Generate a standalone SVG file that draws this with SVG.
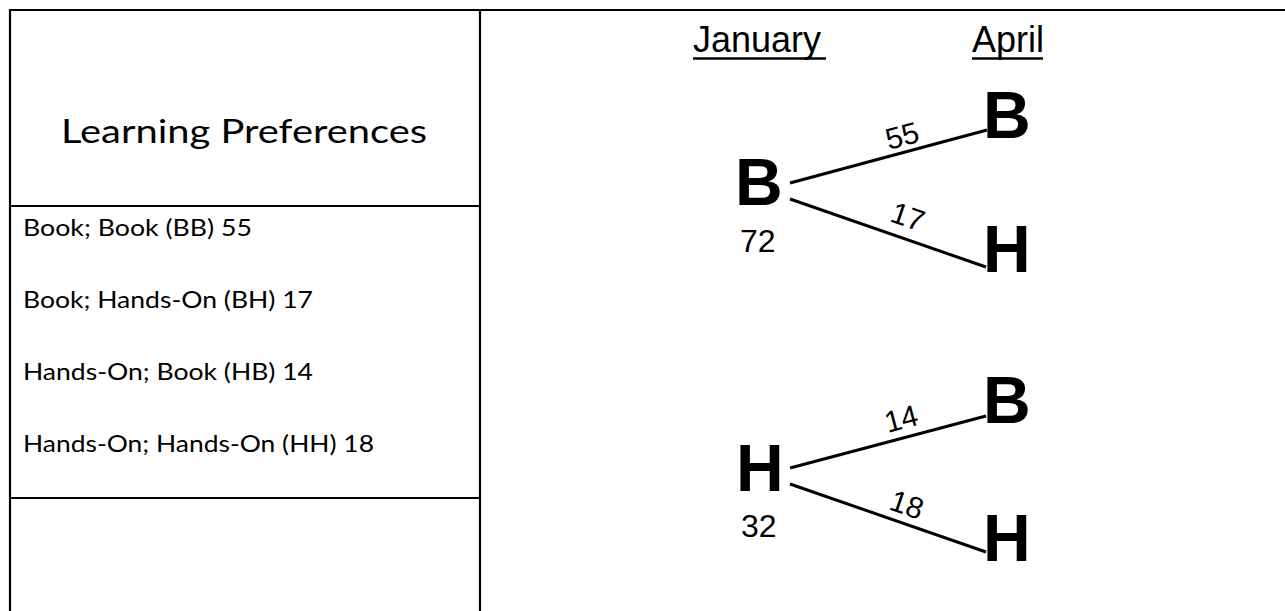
<svg xmlns="http://www.w3.org/2000/svg" width="1285" height="611" viewBox="0 0 1285 611">
<style>
.frame{stroke:#000;stroke-width:2.2;fill:none}
.cal{font-family:Lato,"Open Sans","Liberation Sans",sans-serif;fill:#000}
.arial{font-family:"Liberation Sans",Arial,sans-serif;fill:#000}
.big{font-family:"Liberation Sans",Arial,sans-serif;font-weight:bold;font-size:66px;fill:#000}
.num{font-family:"Liberation Sans",Arial,sans-serif;font-size:32px;fill:#000}
.lbl{font-family:"Liberation Sans",Arial,sans-serif;font-size:30px;fill:#000;text-anchor:middle}
.edge{stroke:#000;stroke-width:3;fill:none}
.ul{stroke:#000;stroke-width:2.4}
</style>
<rect width="1285" height="611" fill="#fff"/>
<g id="table">
<line class="frame" x1="9" y1="10" x2="1285" y2="10"/>
<line class="frame" x1="10" y1="9" x2="10" y2="611"/>
<line class="frame" x1="480" y1="9" x2="480" y2="611"/>
<line class="frame" x1="10" y1="206" x2="480" y2="206"/>
<line class="frame" x1="10" y1="498" x2="480" y2="498"/>
</g>
<g id="title">
<text class="cal" x="61" y="143" font-size="33.5" textLength="366" lengthAdjust="spacingAndGlyphs">Learning Preferences</text>
</g>
<g id="list">
<text class="cal" x="23" y="236" font-size="23" textLength="229" lengthAdjust="spacingAndGlyphs">Book; Book (BB) 55</text>
<text class="cal" x="23" y="308" font-size="23" textLength="290" lengthAdjust="spacingAndGlyphs">Book; Hands-On (BH) 17</text>
<text class="cal" x="23" y="380" font-size="23" textLength="290" lengthAdjust="spacingAndGlyphs">Hands-On; Book (HB) 14</text>
<text class="cal" x="23" y="452" font-size="23" textLength="351" lengthAdjust="spacingAndGlyphs">Hands-On; Hands-On (HH) 18</text>
</g>
<g id="headers">
<text class="arial" x="693" y="52" font-size="36">January</text>
<line class="ul" x1="693" y1="58.5" x2="826" y2="58.5"/>
<text class="arial" x="972" y="52" font-size="36">April</text>
<line class="ul" x1="972" y1="58.5" x2="1043" y2="58.5"/>
</g>
<g id="node-jan-B">
<text class="big" x="735" y="205">B</text>
<text class="num" x="740" y="252">72</text>
</g>
<g id="node-apr-BB">
<text class="big" x="983" y="138">B</text>
</g>
<g id="node-apr-BH">
<text class="big" x="983" y="272">H</text>
</g>
<g id="node-jan-H">
<text class="big" x="736" y="491">H</text>
<text class="num" x="741" y="537">32</text>
</g>
<g id="node-apr-HB">
<text class="big" x="983" y="423">B</text>
</g>
<g id="node-apr-HH">
<text class="big" x="983" y="561">H</text>
</g>
<g id="connectors">
<line class="edge" x1="790" y1="183" x2="987" y2="130"/>
<line class="edge" x1="790" y1="199" x2="986" y2="267"/>
<line class="edge" x1="790" y1="468" x2="986" y2="416"/>
<line class="edge" x1="790" y1="484" x2="986" y2="552"/>
<text class="lbl" x="902" y="146" transform="rotate(-15 902 135)">55</text>
<text class="lbl" x="908" y="227" transform="rotate(19 908 216)">17</text>
<text class="lbl" x="901" y="429" transform="rotate(-15 901 418)">14</text>
<text class="lbl" x="907" y="515" transform="rotate(19 907 504)">18</text>
</g>
</svg>
